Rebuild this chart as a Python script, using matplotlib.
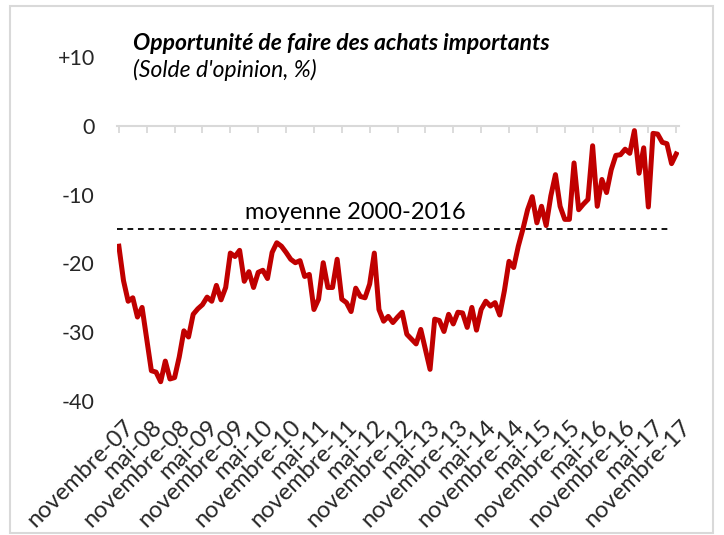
"""Opportunité de faire des achats importants - solde d'opinion."""

import matplotlib

matplotlib.use("Agg")
import matplotlib.pyplot as plt
from matplotlib.patches import Rectangle
from matplotlib.transforms import ScaledTranslation, blended_transform_factory
import numpy as np

plt.rcParams["font.family"] = ["Lato", "DejaVu Sans"]

LINE_COLOR = "#c00000"
AXIS_GREY = "#d9d9d9"
TEXT_COLOR = "#262626"

# monthly balance of opinion, novembre 2007 -> novembre 2017
solde = [
    -17.5, -22.5, -25.5, -25.0, -27.8, -26.4, -31.0, -35.6, -35.8, -37.2,
    -34.2, -36.8, -36.6, -33.6, -29.8, -30.7, -27.4, -26.6, -26.0, -24.9,
    -25.5, -23.2, -25.3, -23.5, -18.5, -19.0, -18.1, -22.6, -21.2, -23.5,
    -21.3, -21.0, -22.2, -18.4, -17.0, -17.5, -18.4, -19.4, -19.9, -19.6,
    -21.9, -21.6, -26.7, -25.2, -19.9, -23.5, -23.5, -19.4, -25.2, -25.7,
    -27.0, -23.6, -24.8, -25.0, -23.0, -18.5, -26.7, -28.4, -27.7, -28.6,
    -27.8, -27.1, -30.3, -31.0, -31.7, -29.6, -32.5, -35.4, -28.1, -28.3,
    -29.9, -27.4, -28.8, -27.1, -27.2, -29.3, -26.4, -29.7, -26.7, -25.5,
    -26.2, -25.7, -27.5, -24.0, -19.7, -20.6, -17.5, -15.0, -12.2, -10.3,
    -14.1, -11.7, -14.5, -10.2, -7.1, -11.7, -13.6, -13.6, -5.4, -12.2,
    -11.4, -10.7, -2.9, -11.7, -7.8, -9.7, -6.4, -4.3, -4.2, -3.4,
    -4.0, -0.7, -6.9, -3.2, -11.8, -1.1, -1.2, -2.4, -2.6, -5.5,
    -4.1,
]
moyenne = -15.0
moyenne_label = "moyenne 2000-2016"

tick_labels = []
for year in range(7, 18):
    tick_labels.append(f"novembre-{year:02d}")
    if year < 17:
        tick_labels.append(f"mai-{year + 1:02d}")

y_ticks = [10, 0, -10, -20, -30, -40]
y_tick_labels = ["+10", "0", "-10", "-20", "-30", "-40"]

title = "Opportunité de faire des achats importants"
subtitle = "(Solde d'opinion, %)"


def main() -> None:
    fig = plt.figure(figsize=(7.24, 5.35), dpi=100)
    fig.patch.set_facecolor("white")
    fig.patches.append(
        Rectangle((10 / 724, 2 / 535), 703 / 724, 527 / 535, transform=fig.transFigure,
                  fill=False, edgecolor=AXIS_GREY, linewidth=1.5)
    )

    ax = fig.add_axes([117 / 724, 1 - 401 / 535, 562 / 724, 344 / 535])
    x = np.arange(len(solde))
    ax.plot(x, solde, color=LINE_COLOR, linewidth=3.6, solid_joinstyle="round", zorder=3)
    ax.axhline(moyenne, xmin=0.0, xmax=0.985, color="black", linestyle=(0, (3.2, 2.6)),
               linewidth=1.3, zorder=2)
    ax.text(x[len(x) // 2] - 9, moyenne + 0.9, moyenne_label, ha="center", va="bottom",
            fontsize=17, color="black")

    ax.set_xlim(-0.4, len(solde) - 0.4)
    ax.set_ylim(-40, 10)

    # category axis sits on zero, labels stay at the bottom
    ax.spines["bottom"].set_position(("data", 0))
    ax.spines["bottom"].set_color(AXIS_GREY)
    ax.spines["bottom"].set_linewidth(1.5)
    for side in ("left", "right", "top"):
        ax.spines[side].set_visible(False)
    tick_pos = x[::6]
    ax.set_xticks(tick_pos)
    ax.set_xticklabels([])
    ax.tick_params(axis="x", direction="out", length=5, width=1.3, color=AXIS_GREY)

    trans = blended_transform_factory(ax.transData, ax.transAxes)
    trans = trans + ScaledTranslation(3 / 72, -11 / 72, fig.dpi_scale_trans)
    for pos, label in zip(tick_pos, tick_labels):
        ax.text(pos, 0, label, transform=trans, rotation=45, rotation_mode="anchor",
                ha="right", va="top", fontsize=17, color=TEXT_COLOR)

    ax.set_yticks(y_ticks)
    ax.set_yticklabels(y_tick_labels)
    ax.tick_params(axis="y", length=0, pad=16, labelsize=15.5, labelcolor=TEXT_COLOR)

    fig.text(133 / 724, 1 - 44 / 535, title, fontsize=16.5, fontweight="bold",
             fontstyle="italic", va="center", ha="left", color="black")
    fig.text(133 / 724, 1 - 70 / 535, subtitle, fontsize=16.5, fontstyle="italic",
             va="center", ha="left", color="black")

    fig.savefig("out.png", dpi=100)
    plt.close(fig)


if __name__ == "__main__":
    main()
